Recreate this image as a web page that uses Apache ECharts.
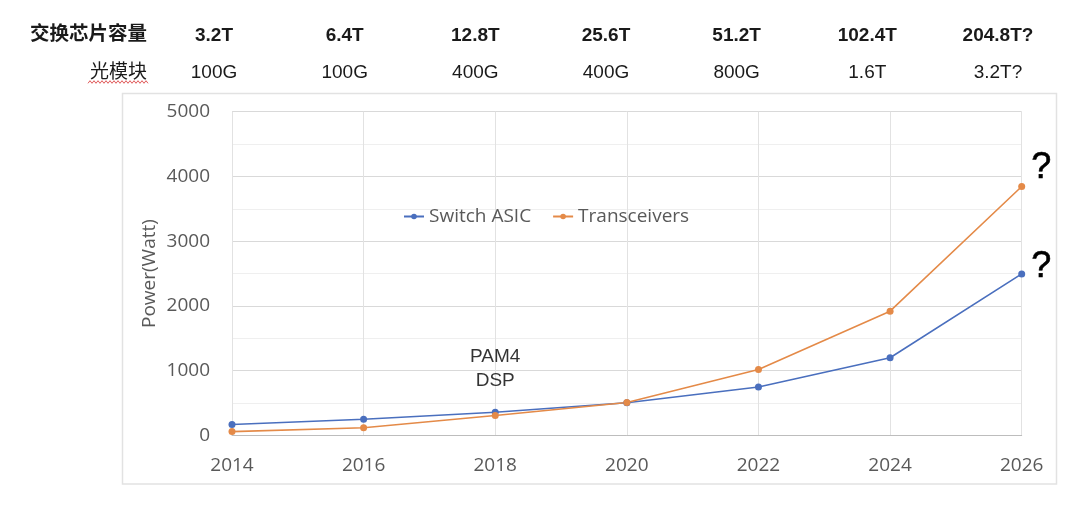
<!DOCTYPE html>
<html>
<head>
<meta charset="utf-8">
<script src="https://cdn.jsdelivr.net/npm/echarts@6/dist/echarts.min.js"></script>
<style>html,body{margin:0;padding:0;background:#fff}#c{width:1080px;height:506px}</style>
</head>
<body>
<div id="c"></div>
<script>
const years = ['2014','2016','2018','2020','2022','2024','2026'];
const switchAsic = [170, 250, 360, 505, 750, 1200, 2495];
const transceivers = [60, 120, 310, 510, 1020, 1920, 3845];
const capacityLabels = ['3.2T','6.4T','12.8T','25.6T','51.2T','102.4T','204.8T?'];
const moduleLabels = ['100G','100G','400G','400G','800G','1.6T','3.2T?'];
const rowHeaders = ['交换芯片容量','光模块'];
const yTicks = [0, 1000, 2000, 3000, 4000, 5000];
const annotation = {year: '2018', value: 1032, text: 'PAM4\nDSP'};
const seriesNames = ['Switch ASIC','Transceivers'];

const BLUE = '#4a6fbe', ORANGE = '#e48a48', GREY = '#595959';
const chartFont = '"Open Sans", "Noto Sans", sans-serif';
const headFont = '"Liberation Sans", Arial, "Noto Sans CJK SC", sans-serif';

// wavy spell-check underline under 光模块
const wave = [];
for (let x = 88, i = 0; x <= 148; x += 2, i++) wave.push([x, 82 + (i % 2 ? -1.3 : 1.3)]);

const chart = echarts.init(document.getElementById('c'), null, {renderer: 'canvas'});
chart.setOption({
  animation: false,
  backgroundColor: '#fff',
  grid: [
    {left: 232, right: 58.3, top: 111.7, bottom: 70.5},
    {left: 148.7, right: 16.7, top: 54, height: 1}
  ],
  graphic: [
    {type: 'rect', shape: {x: 122.5, y: 93.5, width: 934, height: 390.5},
     style: {fill: 'none', stroke: '#e2e2e2', lineWidth: 1.5}, z: -10},
    {type: 'text', style: {text: rowHeaders[0], x: 147, y: 35, align: 'right', verticalAlign: 'middle',
      font: 'bold 19.5px ' + headFont, fill: '#1a1a1a'}},
    {type: 'text', style: {text: rowHeaders[1], x: 147, y: 72.5, align: 'right', verticalAlign: 'middle',
      font: '19px ' + headFont, fill: '#1a1a1a'}},
    {type: 'polyline', shape: {points: wave}, style: {stroke: '#e05a5a', lineWidth: 1, fill: 'none'}}
  ],
  legend: {
    data: seriesNames,
    left: 398, top: 202,
    itemWidth: 20, itemHeight: 7, itemGap: 21,
    textStyle: {color: GREY, fontSize: 19, fontFamily: chartFont}
  },
  xAxis: [
    {
      type: 'category', data: years, boundaryGap: false, gridIndex: 0,
      axisLine: {lineStyle: {color: '#bdbdbd', width: 1}},
      axisTick: {show: false},
      axisLabel: {color: GREY, fontSize: 19, fontFamily: chartFont, margin: 21},
      splitLine: {show: true, lineStyle: {color: '#e2e2e2', width: 1}}
    },
    {
      type: 'category', data: capacityLabels, gridIndex: 1, position: 'top',
      axisLine: {show: false}, axisTick: {show: false}, splitLine: {show: false},
      axisLabel: {color: '#1a1a1a', fontSize: 19, fontWeight: 'bold', fontFamily: headFont, margin: 9, interval: 0}
    },
    {
      type: 'category', data: moduleLabels, gridIndex: 1, position: 'bottom',
      axisLine: {show: false}, axisTick: {show: false}, splitLine: {show: false},
      axisLabel: {color: '#1a1a1a', fontSize: 19, fontFamily: headFont, margin: 8, interval: 0}
    }
  ],
  yAxis: [
    {
      type: 'value', gridIndex: 0, min: yTicks[0], max: yTicks[yTicks.length - 1], interval: 1000,
      name: 'Power(Watt)', nameLocation: 'middle', nameGap: 73, nameRotate: 90, nameMoveOverlap: false,
      nameTextStyle: {color: GREY, fontSize: 19, fontFamily: chartFont},
      axisLine: {show: false}, axisTick: {show: false},
      axisLabel: {color: GREY, fontSize: 19, fontFamily: chartFont, margin: 22, formatter: v => String(v)},
      splitLine: {lineStyle: {color: '#d9d9d9', width: 1}},
      minorTick: {show: false, splitNumber: 2},
      minorSplitLine: {show: true, lineStyle: {color: '#efefef', width: 1}}
    },
    {type: 'value', gridIndex: 1, min: 0, max: 1, show: false}
  ],
  series: [
    {
      name: seriesNames[0], type: 'line', data: switchAsic, xAxisIndex: 0, yAxisIndex: 0,
      color: BLUE, symbol: 'circle', symbolSize: 7,
      lineStyle: {width: 1.6, color: BLUE}, itemStyle: {color: BLUE},
      label: {show: true, position: 'right', distance: 6, offset: [0, -7],
        formatter: p => p.dataIndex === years.length - 1 ? '?' : '',
        color: '#000', fontSize: 36, fontFamily: headFont, textBorderColor: '#000', textBorderWidth: 0.6}
    },
    {
      name: seriesNames[1], type: 'line', data: transceivers, xAxisIndex: 0, yAxisIndex: 0,
      color: ORANGE, symbol: 'circle', symbolSize: 7,
      lineStyle: {width: 1.6, color: ORANGE}, itemStyle: {color: ORANGE},
      label: {show: true, position: 'right', distance: 6, offset: [0, -18],
        formatter: p => p.dataIndex === years.length - 1 ? '?' : '',
        color: '#000', fontSize: 36, fontFamily: headFont, textBorderColor: '#000', textBorderWidth: 0.6}
    },
    {
      type: 'scatter', xAxisIndex: 0, yAxisIndex: 0, symbolSize: 0, silent: true,
      data: [[annotation.year, annotation.value]],
      label: {show: true, position: 'inside', formatter: annotation.text,
        color: '#000', fontSize: 19, lineHeight: 23.5, fontFamily: headFont}
    }
  ]
});
</script>
</body>
</html>
